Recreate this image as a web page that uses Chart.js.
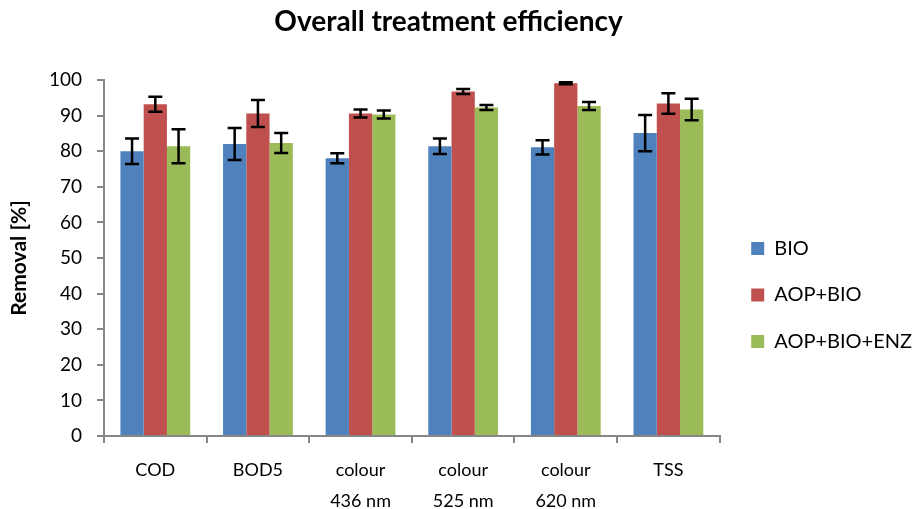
<!DOCTYPE html>
<html>
<head>
<meta charset="utf-8">
<script src="https://cdn.jsdelivr.net/npm/chart.js@4"></script>
<style>
  html, body { margin: 0; padding: 0; background: #fff; }
  #wrap { width: 917px; height: 509px; }
</style>
</head>
<body>
<div id="wrap"><canvas id="chart" width="917" height="509"></canvas></div>
<script>
// data
const categories = ["COD", "BOD5", ["colour", "436 nm"], ["colour", "525 nm"], ["colour", "620 nm"], "TSS"];
const bio = [80.0, 82.0, 78.0, 81.4, 81.1, 85.1];
const bioErr = [3.6, 4.5, 1.4, 2.2, 2.0, 5.1];
const aopBio = [93.2, 90.6, 90.6, 96.8, 99.1, 93.4];
const aopBioErr = [2.1, 3.8, 1.1, 0.7, 0.3, 2.9];
const aopBioEnz = [81.4, 82.3, 90.3, 92.3, 92.7, 91.7];
const aopBioEnzErr = [4.8, 2.8, 1.1, 0.7, 1.1, 3.0];
const yTicks = [0, 10, 20, 30, 40, 50, 60, 70, 80, 90, 100];

Chart.defaults.font.family = "Lato";
Chart.defaults.color = "#000";

const axisGrey = "#868686";

// error bars drawn on top of each bar
const errorBars = {
  id: "errorBars",
  afterDatasetsDraw(chart) {
    const ctx = chart.ctx;
    const y = chart.scales.y;
    ctx.save();
    ctx.strokeStyle = "#000";
    ctx.lineWidth = 2.5;
    chart.data.datasets.forEach((ds, d) => {
      const meta = chart.getDatasetMeta(d);
      meta.data.forEach((bar, i) => {
        const v = ds.data[i], e = ds.errors[i];
        const top = y.getPixelForValue(v + e);
        const bot = y.getPixelForValue(v - e);
        const half = 7;
        ctx.beginPath();
        ctx.moveTo(bar.x, top); ctx.lineTo(bar.x, bot);
        ctx.moveTo(bar.x - half, top); ctx.lineTo(bar.x + half, top);
        ctx.moveTo(bar.x - half, bot); ctx.lineTo(bar.x + half, bot);
        ctx.stroke();
      });
    });
    ctx.restore();
  }
};

// nudge legend right of the plot, title a bit left
const blockShift = {
  id: "blockShift",
  afterLayout(chart) {
    chart.legend.left += 5;
    chart.legend.right += 5;
    chart.titleBlock.left -= 10;
    chart.titleBlock.right -= 10;
  }
};

new Chart(document.getElementById("chart"), {
  type: "bar",
  data: {
    labels: categories,
    datasets: [
      { label: "BIO", data: bio, errors: bioErr, backgroundColor: "#4F81BD" },
      { label: "AOP+BIO", data: aopBio, errors: aopBioErr, backgroundColor: "#C0504D" },
      { label: "AOP+BIO+ENZ", data: aopBioEnz, errors: aopBioEnzErr, backgroundColor: "#9BBB59" }
    ]
  },
  options: {
    responsive: false,
    animation: false,
    layout: { padding: 0 },
    datasets: { bar: { categoryPercentage: 0.68, barPercentage: 1.0 } },
    plugins: {
      tooltip: { enabled: false },
      title: {
        display: true,
        text: "Overall treatment efficiency",
        font: { size: 28, weight: "bold" },
        padding: { top: 5, bottom: 41.4 }
      },
      legend: {
        position: "right",
        maxWidth: 198,
        title: { display: true, text: " ", font: { size: 10, lineHeight: 1 }, padding: { top: 71, bottom: 0 } },
        labels: {
          boxWidth: 13,
          boxHeight: 13,
          padding: 26.5,
          font: { size: 20 }
        }
      }
    },
    scales: {
      x: {
        afterFit(scale) { scale.height = 73; },
        grid: { drawOnChartArea: false, color: axisGrey, lineWidth: 2, tickLength: 7, offset: true },
        border: { color: axisGrey, width: 2 },
        ticks: { font: { size: 18, lineHeight: 1.75 }, padding: 11, maxRotation: 0, autoSkip: false }
      },
      y: {
        min: 0,
        max: 100,
        afterFit(scale) { scale.width = 104; },
        afterBuildTicks(scale) { scale.ticks = yTicks.map(v => ({ value: v })); },
        grid: { drawOnChartArea: false, color: axisGrey, lineWidth: 2, tickLength: 7 },
        border: { color: axisGrey, width: 2 },
        ticks: { font: { size: 19 }, padding: 15 },
        title: {
          display: true,
          text: "Removal [%]",
          font: { size: 21, weight: "bold" },
          padding: { top: 7, bottom: 0 }
        }
      }
    }
  },
  plugins: [errorBars, blockShift]
});
</script>
</body>
</html>
